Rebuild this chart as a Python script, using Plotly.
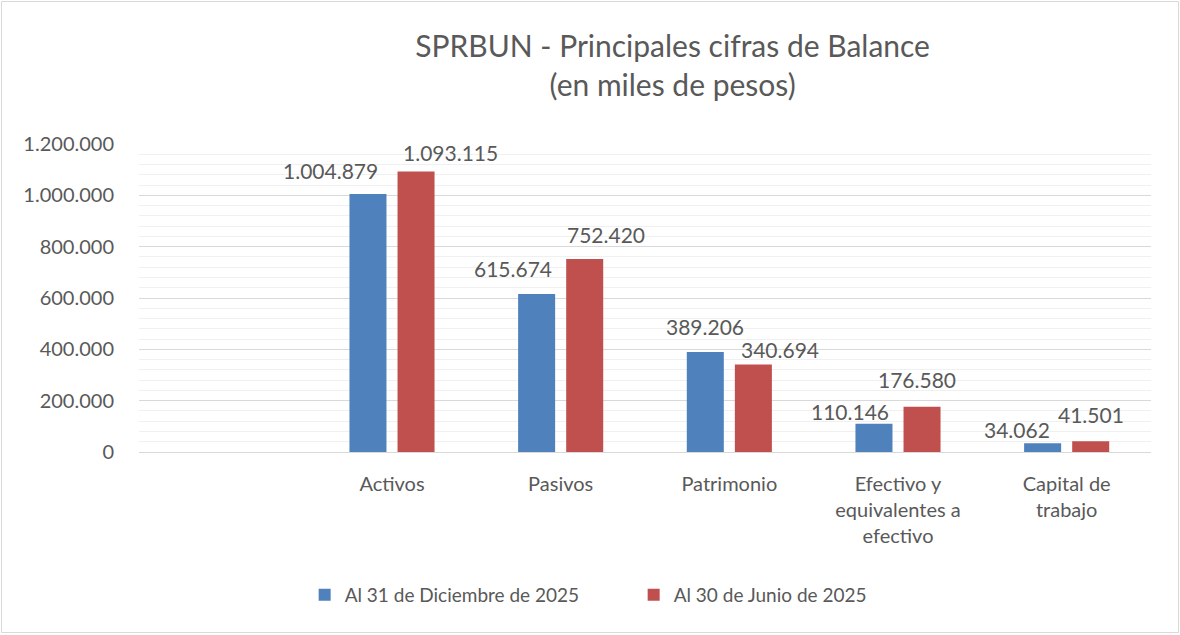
import plotly.graph_objects as go

categories = [" ", "Activos", "Pasivos", "Patrimonio",
              "Efectivo y<br>equivalentes a<br>efectivo", "Capital de<br>trabajo"]
series_names = ["Al 31 de Diciembre de 2025", "Al 30 de Junio de 2025"]
dic_2025 = [None, 1004879, 615674, 389206, 110146, 34062]
jun_2025 = [None, 1093115, 752420, 340694, 176580, 41501]
y_ticks = [0, 200000, 400000, 600000, 800000, 1000000, 1200000]

colors = ["#4F81BD", "#C0504D"]
txt = "#595959"
FONT = "Lato, Open Sans, sans-serif"

# label pixel offsets (style): (xshift, yshift) per bar
lbl_off_dic = [None, (-62, 9), (-48, 11), (-24, 11), (-48, -2), (-50, -1)]
lbl_off_jun = [None, (58, 4), (45, 10), (51, 1), (19, 13), (24, 12)]

def fmt(v):
    return f"{v:,}".replace(",", ".")

fig = go.Figure()
for name, vals, c in [(series_names[0], dic_2025, colors[0]), (series_names[1], jun_2025, colors[1])]:
    fig.add_trace(go.Bar(x=categories, y=vals, name=name, marker=dict(color=c, line=dict(width=0))))

annotations = []
for vals, offs in [(dic_2025, lbl_off_dic), (jun_2025, lbl_off_jun)]:
    for cat, v, o in zip(categories, vals, offs):
        if v is None:
            continue
        annotations.append(dict(x=cat, y=v, xref="x", yref="y", text=fmt(v), showarrow=False,
                                xanchor="center", yanchor="bottom", xshift=o[0], yshift=o[1],
                                font=dict(family=FONT, size=21, color=txt)))

fig.update_layout(
    width=1180, height=635,
    margin=dict(l=139, r=29, t=144, b=183),
    paper_bgcolor="white", plot_bgcolor="white",
    separators=",.",
    barmode="group", bargap=0.43, bargroupgap=0.23,
    font=dict(family=FONT, size=20, color=txt),
    title=dict(text="SPRBUN - Principales cifras de Balance<br>(en miles de pesos)",
               x=0.57, xref="container", xanchor="center",
               y=0.911, yref="container", yanchor="top",
               font=dict(family=FONT, size=30, color=txt)),
    xaxis=dict(type="category", categoryorder="array", categoryarray=categories,
               showgrid=False, showline=True, linecolor="#d9d9d9", linewidth=1,
               ticks="", tickfont=dict(size=20, color=txt), ticklabelstandoff=14),
    yaxis=dict(range=[0, 1200000], tickvals=y_ticks, tickformat=",d",
               showgrid=True, gridcolor="#d9d9d9", gridwidth=1,
               minor=dict(dtick=40000, showgrid=True, gridcolor="#f0f0f0", gridwidth=1),
               zeroline=False, showline=False, ticks="",
               tickfont=dict(size=20, color=txt), ticklabelstandoff=24),
    legend=dict(orientation="h", xref="container", yref="container",
                x=0.537, y=0.063, xanchor="center", yanchor="middle",
                font=dict(size=19, color=txt), itemwidth=30, tracegroupgap=0,
                entrywidth=284, entrywidthmode="pixels"),
    annotations=annotations,
    shapes=[dict(type="rect", xref="paper", yref="paper",
                 x0=(1.5 - 139) / 1012, x1=(1178.5 - 139) / 1012,
                 y0=(452 - 632.5) / 308, y1=(452 - 1.5) / 308,
                 line=dict(color="#d9d9d9", width=1), fillcolor="rgba(0,0,0,0)")],
)

fig.write_html("out.html", config={"displayModeBar": False},
               post_script="document.body.style.margin='0';document.body.style.overflow='hidden';")
